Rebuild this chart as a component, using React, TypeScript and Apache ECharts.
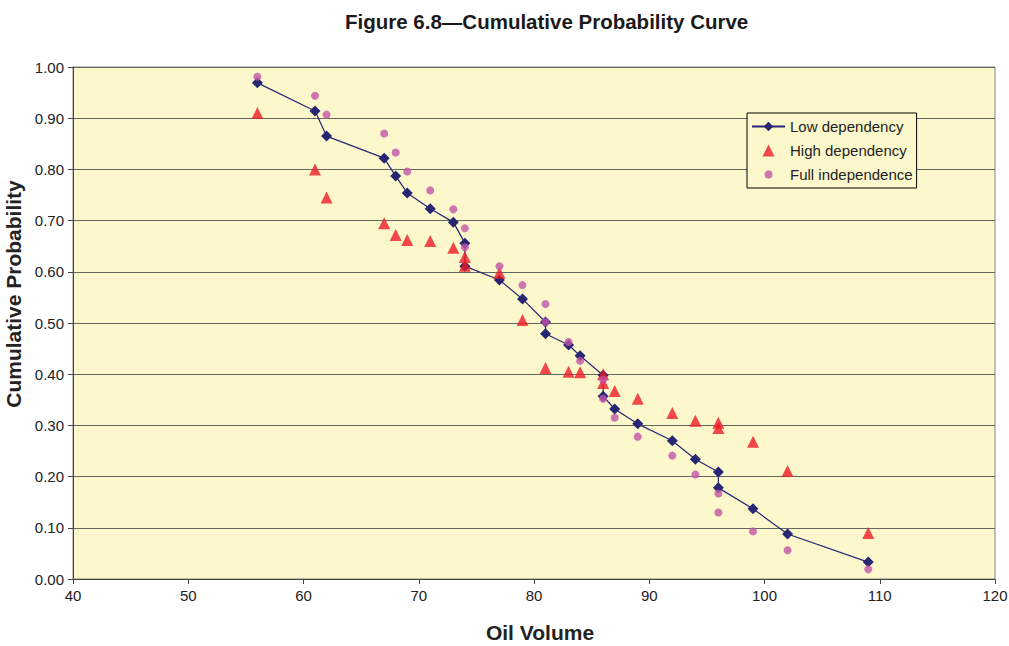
import React, { useEffect, useRef } from "react";
import * as echarts from "echarts";

const lowX = [56, 61, 62, 67, 68, 69, 71, 73, 74, 74, 77, 79, 81, 81, 83, 84, 86, 86, 87, 89, 92, 94, 96, 96, 99, 102, 109];
const lowY = [0.969, 0.914, 0.865, 0.822, 0.787, 0.754, 0.723, 0.697, 0.656, 0.611, 0.584, 0.547, 0.502, 0.479, 0.457, 0.436, 0.398, 0.357, 0.332, 0.303, 0.270, 0.234, 0.209, 0.178, 0.137, 0.088, 0.033];

const highX = [56, 61, 62, 67, 68, 69, 71, 73, 74, 74, 77, 79, 81, 83, 84, 86, 86, 87, 89, 92, 94, 96, 96, 99, 102, 109];
const highY = [0.910, 0.800, 0.745, 0.695, 0.672, 0.662, 0.660, 0.647, 0.629, 0.612, 0.598, 0.506, 0.412, 0.405, 0.404, 0.400, 0.383, 0.367, 0.352, 0.324, 0.309, 0.305, 0.295, 0.268, 0.211, 0.090];

const fullX = [56, 61, 62, 67, 68, 69, 71, 73, 74, 74, 77, 79, 81, 81, 83, 84, 86, 86, 87, 89, 92, 94, 96, 96, 99, 102, 109];
const fullY = [0.981, 0.944, 0.907, 0.870, 0.833, 0.796, 0.759, 0.722, 0.685, 0.648, 0.611, 0.574, 0.537, 0.502, 0.463, 0.426, 0.389, 0.352, 0.315, 0.278, 0.241, 0.204, 0.167, 0.130, 0.093, 0.056, 0.019];

const pairs = (xs: number[], ys: number[]) => xs.map((x, i) => [x, ys[i]]);

const TRI_ICON = "path://M5,0L10,10L0,10Z";
const DOT_ICON = "path://M0,0L0.01,0L0,0.01ZM10,10L9.99,10L10,9.99ZM1.7,5A3.3,3.3,0,1,1,8.3,5A3.3,3.3,0,1,1,1.7,5Z";

export default function App() {
  const ref = useRef<HTMLDivElement>(null);
  useEffect(() => {
    document.body.style.margin = "0";
    const chart = echarts.init(ref.current!, null, { renderer: "svg" });
    const font = "Liberation Sans, Arial, sans-serif";
    chart.setOption({
      animation: false,
      backgroundColor: "#ffffff",
      textStyle: { fontFamily: font },
      title: {
        text: "Figure 6.8\u2014Cumulative Probability Curve",
        left: 340,
        top: 6,
        textStyle: { fontSize: 20.5, fontWeight: "bold", color: "#1a1a1a", fontFamily: font },
      },
      grid: {
        left: 73,
        right: 14,
        top: 67,
        bottom: 67,
        show: true,
        containLabel: false,
        outerBoundsMode: "none",
        backgroundColor: "#FCF8CC",
        borderColor: "#888888",
        borderWidth: 1,
      },
      legend: {
        orient: "vertical",
        left: 747,
        top: 113,
        itemGap: 9,
        itemWidth: 33,
        itemHeight: 12,
        padding: [6, 4, 6, 4],
        borderColor: "#000",
        borderWidth: 1,
        backgroundColor: "#FCF8CC",
        symbolKeepAspect: true,
        textStyle: { fontSize: 15, color: "#222", fontFamily: font },
        data: [
          { name: "Low dependency" },
          { name: "High dependency", icon: TRI_ICON },
          { name: "Full independence", icon: DOT_ICON },
        ],
      },
      xAxis: {
        type: "value",
        min: 40,
        max: 120,
        interval: 10,
        name: "Oil Volume",
        nameLocation: "middle",
        nameGap: 43,
        nameTextStyle: { fontSize: 21, fontWeight: "bold", color: "#222", fontFamily: font, padding: [0, 0, 0, 12] },
        axisLine: { onZero: false, lineStyle: { color: "#444", width: 1 } },
        axisTick: { show: true, length: 5, lineStyle: { color: "#444" } },
        axisLabel: { fontSize: 15, color: "#222", margin: 9, fontFamily: font },
        splitLine: { show: false },
      },
      yAxis: {
        type: "value",
        min: 0,
        max: 1,
        interval: 0.1,
        name: "Cumulative Probability",
        nameLocation: "middle",
        nameGap: 43,
        nameTextStyle: { fontSize: 21, fontWeight: "bold", color: "#222", fontFamily: font, padding: [0, 0, 0, 58] },
        axisLine: { show: true, lineStyle: { color: "#444" } },
        axisTick: { show: true, length: 5, lineStyle: { color: "#444" } },
        axisLabel: {
          fontSize: 15,
          color: "#222",
          margin: 9,
          fontFamily: font,
          formatter: (v: number) => v.toFixed(2),
        },
        splitLine: { show: true, lineStyle: { color: "#666", width: 1 } },
      },
      series: [
        {
          name: "Low dependency",
          type: "line",
          data: pairs(lowX, lowY),
          symbol: "diamond",
          symbolSize: 11,
          lineStyle: { color: "#262673", width: 1.2 },
          itemStyle: { color: "#262673" },
          z: 3,
        },
        {
          name: "High dependency",
          type: "scatter",
          data: pairs(highX, highY),
          symbol: "triangle",
          symbolSize: 12,
          itemStyle: { color: "#EE1C25" },
          z: 4,
        },
        {
          name: "Full independence",
          type: "scatter",
          data: pairs(fullX, fullY),
          symbol: "circle",
          symbolSize: 8,
          itemStyle: { color: "#C054A8" },
          z: 5,
        },
      ],
    });
    return () => chart.dispose();
  }, []);
  return <div ref={ref} style={{ width: 1009, height: 646 }} />;
}
